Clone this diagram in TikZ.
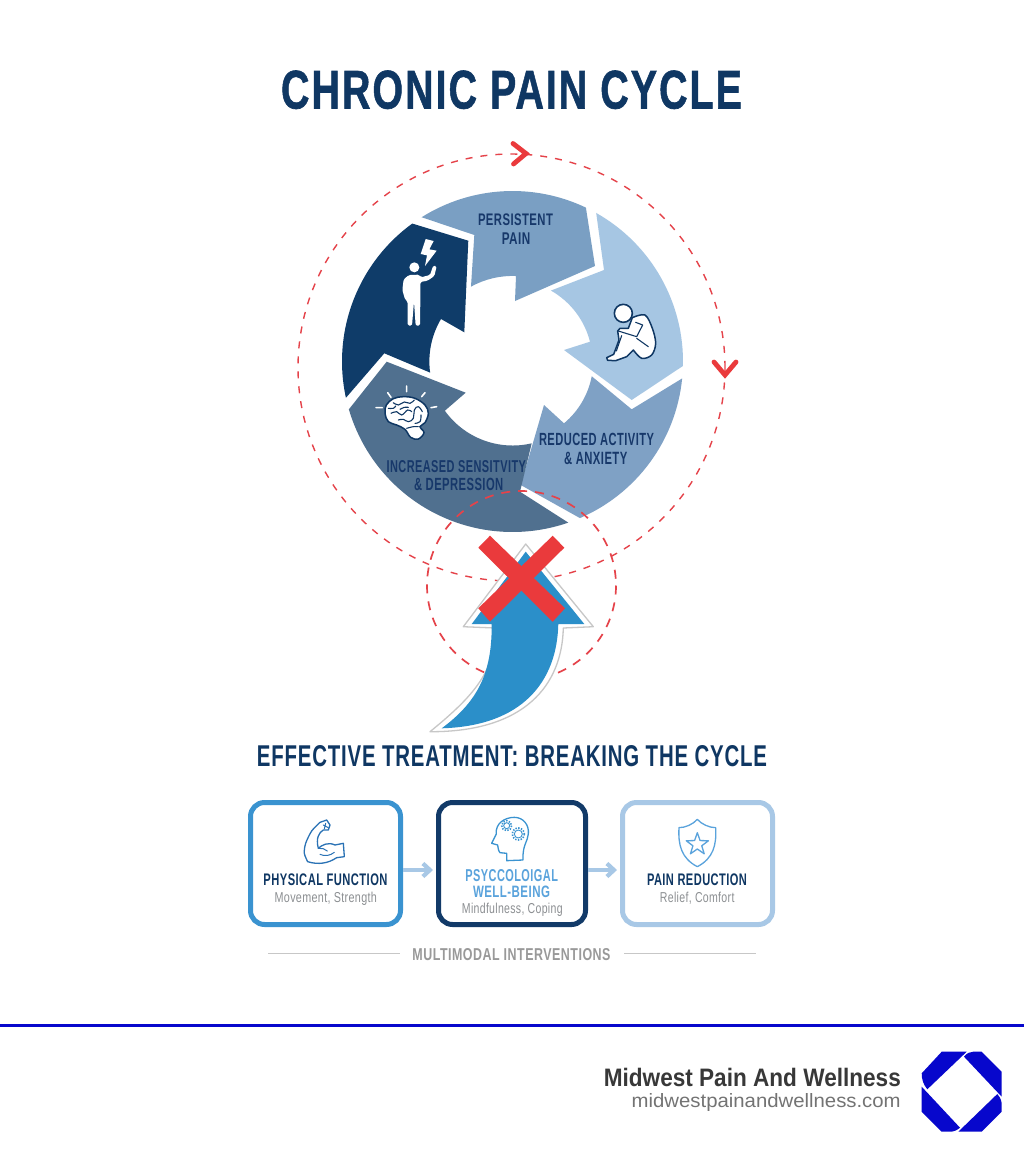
\documentclass[tikz,border=0pt]{standalone}
\usepackage{graphicx}
\usepackage{fontspec}
\setmainfont{Liberation Sans}
\usetikzlibrary{arrows.meta}
\definecolor{navy}{HTML}{0F3763}
\definecolor{wheelink}{HTML}{17386A}
\definecolor{segdark}{HTML}{0F3C69}
\definecolor{segmid}{HTML}{7A9FC3}
\definecolor{seglight}{HTML}{A6C6E3}
\definecolor{seglow}{HTML}{7FA1C5}
\definecolor{segslate}{HTML}{50708F}
\definecolor{redline}{HTML}{E5434A}
\definecolor{redx}{HTML}{EA3A3C}
\definecolor{bluearrow}{HTML}{2B8FC9}
\definecolor{boxa}{HTML}{3A93D0}
\definecolor{boxb}{HTML}{123A68}
\definecolor{boxc}{HTML}{A8C8E6}
\definecolor{lightink}{HTML}{5AA3DC}
\definecolor{subgray}{HTML}{8C8F92}
\definecolor{muscle}{HTML}{2A72B5}
\definecolor{brand}{HTML}{0707CC}
\newcommand{\fittext}[3]{\resizebox{#1pt}{#2pt}{#3}}
\newcommand{\capsf}{\bfseries\addfontfeature{LetterSpace=4}}
\newcommand{\subf}{\addfontfeature{LetterSpace=3}}
\tikzset{
  txt/.style={inner sep=0pt,outer sep=0pt,anchor=base},
  seg/.style={draw=none},
  dashring/.style={draw=redline,line width=1.4pt,dash pattern=on 7pt off 8pt},
  dashringb/.style={draw=redline,line width=1.7pt,dash pattern=on 9pt off 8pt},
  chevron/.style={draw=redx,line width=4.8pt,line cap=round,line join=miter},
  boxnode/.style={draw,line width=5pt,minimum width=#1,minimum height=122pt,rounded corners=14pt,inner sep=0pt,fill=white},
  flowarrow/.style={draw=boxc,line width=4.2pt,-{Straight Barb[length=7pt,width=13pt]}},
  icon/.style={line width=1.3pt,line join=round,line cap=round},
  zoomed/.style={shift={#1},scale=0.33333}
}
\begin{document}
\begin{tikzpicture}[x=1pt,y=-1pt]
\useasboundingbox (0,0) rectangle (1024,1154);
\fill[white] (0,0) rectangle (1024,1154);

% title
\node[txt,text=navy] (title) at (511.5,108.5) {\fittext{461}{38}{\bfseries\addfontfeature{LetterSpace=5,FakeBold=1.2}CHRONIC PAIN CYCLE}};

% outer dashed ring
\draw[dashring] (511.5,367.5) circle[radius=213.5];

% wheel
\fill[segmid,seg] (512.5,361.5) ++(-122.2:170.5) arc[start angle=-122.2,end angle=-64.5,radius=170.5]
  -- (595,266) -- (515,301) -- (516,276) arc[start angle=-87.7,end angle=-118.9,radius=86] -- (474.3,235) -- cycle;
\fill[seglight,seg] (512.5,361.5) ++(-60.6:170.5) arc[start angle=-60.6,end angle=1.5,radius=170.5]
  -- (631.7,400) -- (564,350) -- (590,341.7) arc[start angle=-14.3,end angle=-60.5,radius=82] -- (604,270) -- cycle;
\fill[seglow,seg] (512.5,361.5) ++(5.7:170.5) arc[start angle=5.7,end angle=66.7,radius=170.5]
  -- (520.7,485) -- (544,405) -- (564,423.3) arc[start angle=50.2,end angle=10.8,radius=81] -- (631.7,409.3) -- cycle;
\fill[segslate,seg] (512.5,361.5) ++(163.7:170.5) arc[start angle=163.7,end angle=70.9,radius=170.5]
  -- (520,491.7) -- (531.7,443.3) arc[start angle=76.8,end angle=144.3,radius=83.5] -- (465.7,392.7) -- (386.7,361.7) -- cycle;
\fill[segdark,seg] (512.5,361.5) ++(167.7:170.5) arc[start angle=167.7,end angle=234,radius=170.5]
  -- (468.3,240.7) -- (464.3,332.3) -- (441,319) arc[start angle=210.7,end angle=172.2,radius=83] -- (384.3,353.3) -- cycle;

% wheel labels
\node[txt,text=wheelink] (l1a) at (515.5,225.7) {\fittext{75}{11.7}{\capsf PERSISTENT}};
\node[txt,text=wheelink] (l1b) at (516,244) {\fittext{28.5}{11.7}{\capsf PAIN}};
\node[txt,text=wheelink] (l2a) at (596.5,445.7) {\fittext{115}{12.3}{\capsf REDUCED ACTIVITY}};
\node[txt,text=wheelink] (l2b) at (595.7,464) {\fittext{63.3}{12.3}{\capsf \& ANXIETY}};
\node[txt,text=wheelink] (l3a) at (456.3,472) {\fittext{139.3}{12}{\capsf INCREASED SENSITVITY}};
\node[txt,text=wheelink] (l3b) at (458.7,490.7) {\fittext{89.3}{12.3}{\capsf \& DEPRESSION}};

% person with lightning
\begin{scope}[zoomed={(385,230)}]
  \fill[white] (88,112) circle[radius=15];
  \fill[white,rounded corners=1.5pt] (72,135) -- (102,134) -- (108,142) -- (135,135) -- (145,106) -- (155,109) -- (148,138) -- (128,152) -- (106,156)
    -- (106,210) -- (105,287) -- (92,287) -- (87,215) -- (81,287) -- (68,287) -- (68,215) -- (60,208) -- (52,180) -- (56,148) -- cycle;
  \fill[white] (122,27) -- (146,33) -- (133,58) -- (155,62) -- (120,108) -- (126,76) -- (107,72) -- cycle;
\end{scope}

% curled figure
\begin{scope}[zoomed={(595,295)}]
  \draw[icon,draw=navy,fill=white,line width=1.5pt] plot[smooth,tension=.55] coordinates {(112,68) (150,60) (172,100) (182,145) (170,180) (140,190) (115,165)}
    -- (95,185) -- (62,197) -- (38,196) -- (35,188) -- (56,178) -- (72,135) -- (68,108) -- (75,100) -- (100,100) -- cycle;
  \draw[icon,draw=navy,line width=1.1pt] (70,108) -- (125,125) -- (143,90) -- (122,82);
  \draw[icon,draw=navy,line width=1.1pt] (125,130) -- (160,155);
  \draw[icon,draw=navy,line width=1.1pt] (80,122) -- (64,168);
  \draw[icon,draw=navy,fill=white,line width=1.6pt] (85,55) circle[radius=27];
\end{scope}

% brain
\begin{scope}[zoomed={(365,380)}]
  \draw[white,line width=1.6pt,line cap=round] (125,18) -- (125,35) (68,38) -- (78,52) (180,38) -- (170,50) (33,83) -- (52,83) (198,83) -- (215,80);
  \draw[draw=navy,fill=white,line width=1.5pt] plot[smooth cycle,tension=.6] coordinates {(60,100) (64,75) (85,56) (115,50) (150,55) (180,75) (190,100) (180,128) (165,140) (177,158) (160,177) (137,172) (120,148) (95,135) (70,125)};
  \foreach \pts in {{(85,68) (100,75) (118,66) (135,70) (148,60)},{(78,100) (95,95) (110,105) (128,90) (140,95)},{(100,120) (115,118) (130,125) (145,115) (148,90) (160,80) (172,95)},{(150,130) (165,125) (168,105)},{(125,145) (145,140) (160,140)},{(70,85) (85,85) (92,78)},{(105,88) (118,82) (130,82)}}{
    \draw[navy,line width=1.1pt,line cap=round] plot[smooth,tension=.7] coordinates {\pts};
  }
\end{scope}

% small dashed ring
\draw[dashringb] (521.5,585.5) circle[radius=94.5];

% upward arrow
\draw[draw=black!22,fill=white,line width=1.3pt,line join=round] (525.7,544) -- (593.3,626.7) -- (563.3,628)
  .. controls (562,685) and (525,732) .. (430,731.7) .. controls (475,695) and (496,670) .. (495,628) -- (463.3,626.7) -- cycle;
\fill[bluearrow] (525.7,551.7) -- (584.3,624) -- (558.3,624)
  .. controls (557,682) and (522,726) .. (441.7,728.3) .. controls (480,700) and (492,670) .. (491.7,624) -- (471.7,624) -- cycle;

% red cross
\fill[redx] (478.3,547.7) -- (490,535.7) -- (565,608.3) -- (552.7,621.7) -- cycle;
\fill[redx] (552.7,535.7) -- (564.3,547.7) -- (490,621.7) -- (478.3,608.3) -- cycle;

% direction chevrons
\draw[chevron] (513,143.5) -- (526,153.5) -- (513.5,164);
\draw[chevron] (714,362) -- (725,375) -- (736,362);

% heading
\node[txt,text=navy] (heading) at (512,766) {\fittext{510}{21}{\capsf EFFECTIVE TREATMENT: BREAKING THE CYCLE}};

% boxes
\node[boxnode=150pt,draw=boxa] (b1) at (325.5,863.5) {};
\node[boxnode=147pt,draw=boxb] (b2) at (512,863.5) {};
\node[boxnode=150pt,draw=boxc] (b3) at (697.5,863.5) {};
\draw[flowarrow,shorten >=3pt] ([yshift=-6.5pt]b1.east) -- ([yshift=-6.5pt]b2.west);
\draw[flowarrow,shorten >=3pt] ([yshift=-6.5pt]b2.east) -- ([yshift=-6.5pt]b3.west);

% box texts
\node[txt,text=navy] (t1) at (325.5,885.7) {\fittext{124}{11.7}{\capsf PHYSICAL FUNCTION}};
\node[txt,text=subgray] (s1) at (325.8,902) {\fittext{102.3}{10.4}{\subf Movement, Strength}};
\node[txt,text=lightink] (t2a) at (511.7,881) {\fittext{92.5}{12}{\capsf PSYCCOLOIGAL}};
\node[txt,text=lightink] (t2b) at (511.5,897) {\fittext{77}{11.5}{\capsf WELL-BEING}};
\node[txt,text=subgray] (s2) at (512.3,913) {\fittext{100.7}{10.4}{\subf Mindfulness, Coping}};
\node[txt,text=navy] (t3) at (697,885.7) {\fittext{100}{11.7}{\capsf PAIN REDUCTION}};
\node[txt,text=subgray] (s3) at (697.2,902) {\fittext{74.5}{10.4}{\subf Relief, Comfort}};

% muscle icon
\begin{scope}[zoomed={(295,815)}]
  \draw[icon,draw=muscle] plot[smooth,tension=.5] coordinates {(38,140) (28,115) (32,85) (50,48) (75,22)} -- (95,15) -- (105,30) -- (100,45) -- (85,45)
    .. controls (72,52) and (62,70) .. (70,100) .. controls (80,90) and (100,80) .. (120,90) -- (145,85) -- (148,125) -- (125,128)
    .. controls (100,145) and (70,150) .. (38,140);
  \draw[icon,draw=muscle,line width=1pt] (75,118) .. controls (90,125) and (105,122) .. (118,112);
  \draw[icon,draw=muscle,line width=1pt] (70,100) .. controls (80,98) and (90,102) .. (97,108);
  \draw[icon,draw=muscle,line width=1pt] (85,30) -- (100,38) (92,25) -- (88,42);
\end{scope}

% head with gears
\begin{scope}[zoomed={(485,810)}]
  \draw[icon,draw=boxa] (65,152) -- (65,130) -- (45,128) .. controls (38,120) and (40,110) .. (38,105) -- (20,100) -- (34,72)
    .. controls (30,40) and (60,22) .. (88,22) .. controls (115,22) and (133,45) .. (130,72) .. controls (128,95) and (112,105) .. (114,150) -- cycle;
  \foreach \cx/\cy/\cr in {65/47/15,100/72/18}{
    \draw[boxa,line width=1.6pt,dash pattern=on 1.4pt off 1.4pt] (\cx,\cy) circle[radius=\cr];
    \draw[boxa,line width=.9pt] (\cx,\cy) circle[radius=\cr-6];
  }
\end{scope}

% shield with star
\begin{scope}[zoomed={(670,815)}]
  \draw[icon,draw=lightink] (82,13) .. controls (95,28) and (118,38) .. (137,38) .. controls (140,90) and (130,130) .. (82,155)
    .. controls (34,130) and (24,90) .. (27,38) .. controls (46,38) and (69,28) .. (82,13) -- cycle;
  \begin{scope}[shift={(82,88)}]
    \draw[icon,draw=lightink] (-90:35) -- (-54:14) -- (-18:35) -- (18:14) -- (54:35) -- (90:14) -- (126:35) -- (162:14) -- (198:35) -- (234:14) -- cycle;
  \end{scope}
\end{scope}

% multimodal rule
\coordinate (r1a) at (268,953.5); \coordinate (r1b) at (400,953.5);
\coordinate (r2a) at (624,953.5); \coordinate (r2b) at (756,953.5);
\draw[black!22,line width=1.4pt] (r1a) -- (r1b) (r2a) -- (r2b);
\node[txt,text=black!40] (multi) at (511.5,960) {\fittext{198}{12}{\capsf MULTIMODAL INTERVENTIONS}};

% footer
\coordinate (fa) at (0,1025.5); \coordinate (fb) at (1024,1025.5);
\draw[brand,line width=3pt] (fa) -- (fb);
\node[txt,text=black!78] (brandname) at (752.3,1086.7) {\fittext{297}{18.3}{\bfseries Midwest Pain And Wellness}};
\node[txt,text=black!55] (brandurl) at (766.2,1107) {\fittext{269}{14}{midwestpainandwellness.com}};

% logo
\fill[brand] (941.7,1051.7) -- (966.7,1051.7) -- (927.3,1089.3) .. controls (923,1084) and (921.7,1079) .. (921.7,1073.3) -- cycle;
\fill[brand] (964,1056.7) .. controls (967,1053) and (970,1051.7) .. (973.3,1051.7) -- (981.7,1051.7) -- (1001.7,1071.7) -- (1001.7,1096.7) -- cycle;
\fill[brand] (997.3,1094) .. controls (1001,1098) and (1001.7,1102) .. (1001.7,1105) -- (1001.7,1111.7) -- (981.7,1131.7) -- (958.3,1131.7) -- cycle;
\fill[brand] (921.7,1086.7) -- (960,1127.7) .. controls (957,1130) and (954,1131.7) .. (951.7,1131.7) -- (941.7,1131.7) -- (921.7,1111.7) -- cycle;
\end{tikzpicture}
\end{document}
